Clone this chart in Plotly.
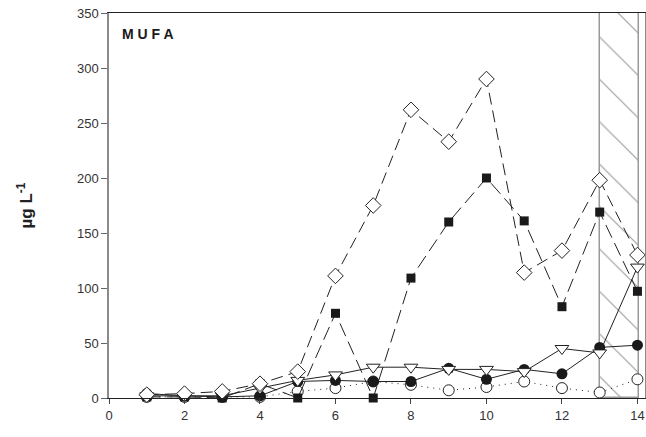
import plotly.graph_objects as go

x = [1, 2, 3, 4, 5, 6, 7, 8, 9, 10, 11, 12, 13, 14]
diamond_open = [3, 4, 6, 13, 24, 111, 175, 262, 233, 290, 114, 134, 198, 130]
square_filled = [1, 1, 0, 13, 0, 77, 0, 109, 160, 200, 161, 83, 169, 97]
triangle_open = [2, 2, 2, 9, 16, 21, 28, 28, 26, 26, 24, 45, 41, 119]
circle_filled = [4, 2, 1, 2, 15, 16, 15, 15, 27, 17, 26, 22, 46, 48]
circle_open = [1, 1, 1, 1, 6, 9, 15, 12, 7, 10, 15, 9, 5, 17]

hatch_start = 13
hatch_end = 14.05
y_max = 350
x_ticks = [0, 2, 4, 6, 8, 10, 12, 14]
y_ticks = [0, 50, 100, 150, 200, 250, 300, 350]

fig = go.Figure()

fig.add_trace(go.Bar(
    x=[(hatch_start + hatch_end) / 2], y=[y_max], width=[hatch_end - hatch_start],
    marker=dict(color="white", line=dict(color="#999", width=1.5),
                pattern=dict(shape="\\", fgcolor="#a0a0a0", bgcolor="white",
                             size=30, solidity=0.04, fillmode="replace")),
    showlegend=False, hoverinfo="skip"))

common = dict(mode="lines+markers", cliponaxis=False, showlegend=False)

fig.add_trace(go.Scatter(x=x, y=circle_open, line=dict(color="#222", width=1, dash="1px,5px"),
                         marker=dict(symbol="circle", size=11, color="white",
                                     line=dict(color="#222", width=1)),
                         **common))
fig.add_trace(go.Scatter(x=x, y=circle_filled, line=dict(color="#222", width=1),
                         marker=dict(symbol="circle", size=11, color="#1a1a1a"),
                         **common))
fig.add_trace(go.Scatter(x=x, y=triangle_open, line=dict(color="#222", width=1),
                         marker=dict(symbol="triangle-down", size=12, color="white",
                                     line=dict(color="#222", width=1)),
                         **common))
fig.add_trace(go.Scatter(x=x, y=square_filled, line=dict(color="#222", width=1, dash="14px,6px"),
                         marker=dict(symbol="square", size=9, color="#1a1a1a"),
                         **common))
fig.add_trace(go.Scatter(x=x, y=diamond_open, line=dict(color="#222", width=1, dash="12px,6px"),
                         marker=dict(symbol="diamond", size=12, color="white",
                                     line=dict(color="#222", width=1)),
                         **common))

fig.update_layout(
    width=646, height=437,
    margin=dict(l=109, r=1, t=13, b=39, autoexpand=False),
    plot_bgcolor="white", paper_bgcolor="white",
    font=dict(family="Liberation Sans, Arial, sans-serif", size=13, color="#333"),
    bargap=0,
    xaxis=dict(range=[0, 14.2], tickvals=x_ticks, showgrid=False, zeroline=False,
               showline=True, linecolor="#222", linewidth=1, mirror=True, automargin=False,
               ticks="outside", ticklen=5, tickcolor="#444", ticklabeloverflow="allow"),
    yaxis=dict(range=[0, y_max], tickvals=y_ticks, showgrid=False, zeroline=False,
               showline=True, linecolor="#8a8a8a", linewidth=1.5, mirror=True, automargin=False,
               ticks="outside", ticklen=6, tickcolor="#666", ticklabeloverflow="allow",
               title=dict(text="<b>µg L<sup>-1</sup></b>", font=dict(size=17, color="#222"),
                          standoff=40)),
    annotations=[dict(text="<b>M U F A</b>", x=0.02, y=0.972, xref="paper", yref="paper",
                      xanchor="left", yanchor="top", showarrow=False,
                      font=dict(size=14, color="#1a1a1a"))],
)

fig.write_html("out.html", config={"displayModeBar": False},
               post_script="document.body.style.margin='0px';")
